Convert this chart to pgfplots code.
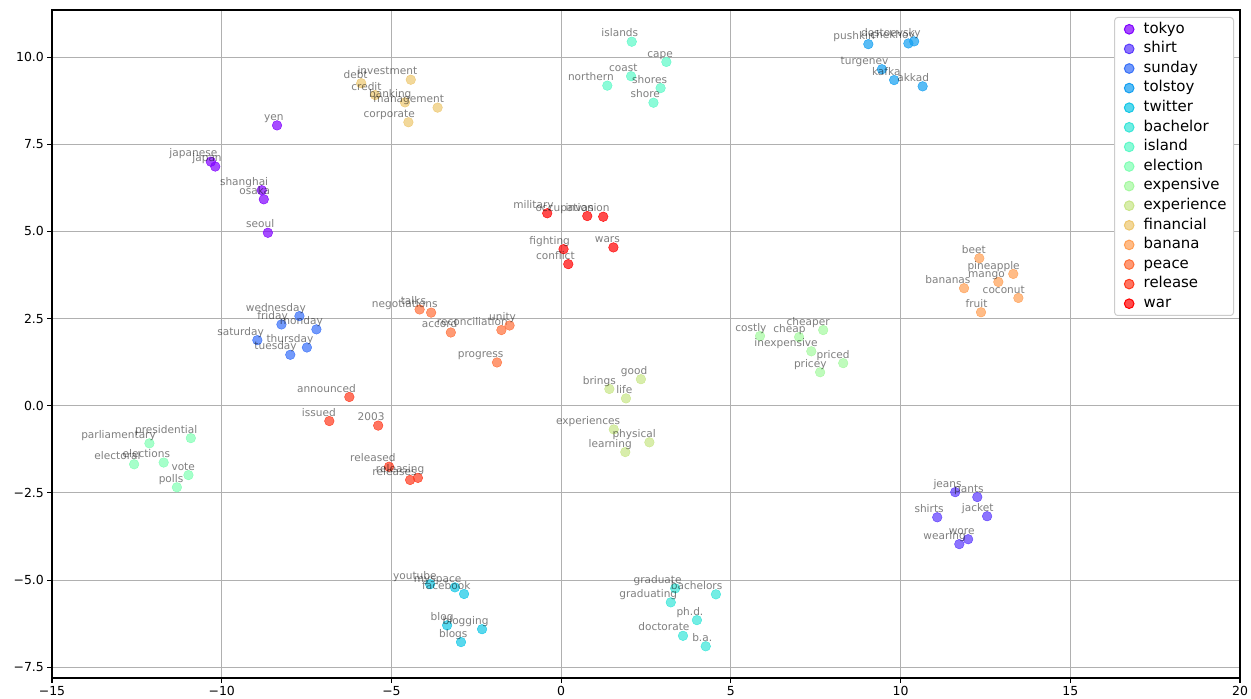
\documentclass[border=0pt]{standalone}
\usepackage{pgfplots}
\pgfplotsset{compat=1.18}
\usepackage{fontspec}
\setmainfont{DejaVu Sans}
\definecolor{c0}{RGB}{128,0,255}
\definecolor{c1}{RGB}{91,57,253}
\definecolor{c2}{RGB}{55,111,249}
\definecolor{c3}{RGB}{18,159,241}
\definecolor{c4}{RGB}{18,199,230}
\definecolor{c5}{RGB}{55,230,216}
\definecolor{c6}{RGB}{91,249,199}
\definecolor{c7}{RGB}{128,255,180}
\definecolor{c8}{RGB}{164,249,159}
\definecolor{c9}{RGB}{200,230,136}
\definecolor{c10}{RGB}{237,199,111}
\definecolor{c11}{RGB}{255,159,84}
\definecolor{c12}{RGB}{255,111,57}
\definecolor{c13}{RGB}{255,57,29}
\definecolor{c14}{RGB}{255,0,0}
\newcommand{\labfont}{\fontsize{10.6}{12}\selectfont}
\newcommand{\tickfont}{\fontsize{12.5}{15}\selectfont}
\newcommand{\legfont}{\fontsize{15}{17}\selectfont}
\pgfplotsset{
  wl/.style={only marks, mark=*, mark size=4.8bp, color=#1,
    mark options={draw=none, fill=#1, fill opacity=0.7},
    nodes near coords, point meta=explicit symbolic,
    nodes near coords style={anchor=south east, font=\labfont, text=black, text opacity=0.5,
      fill opacity=0, inner sep=0pt, text depth=2.5bp, xshift=6.6bp, yshift=2.2bp}},
}
\begin{document}
\begin{tikzpicture}
\begin{axis}[
  scale only axis, width=1188bp, height=668bp,
  xmin=-15, xmax=20, ymin=-7.81, ymax=11.35,
  xtick={-15,-10,-5,0,5,10,15,20},
  xticklabels={−15,−10,−5,0,5,10,15,20},
  ytick={-7.5,-5,-2.5,0,2.5,5,7.5,10},
  yticklabels={−7.5,−5.0,−2.5,0.0,2.5,5.0,7.5,10.0},
  tick label style={font=\tickfont},
  tick pos=left, tick align=outside, major tick length=4.6bp,
  every tick/.style={black, line width=1.05bp},
  grid=major, major grid style={color=black!31, line width=1.05bp},
  axis line style={line width=1.05bp},
  legend cell align=left,
  legend image code/.code={\path (-7bp,0bp) (7bp,0bp); \fill[#1, fill opacity=0.7] (0bp,0bp) circle (4.8bp);},
  legend style={at={(rel axis cs:1,1)}, anchor=north east, xshift=-6bp, yshift=-7bp,
    draw=black!20, fill=white, rounded corners=3bp, line width=1bp,
    font=\legfont, inner xsep=7bp, inner ysep=4.55bp, row sep=5.1bp, column sep=7bp,
    nodes={inner sep=0pt, text height=11bp, text depth=3.5bp}},
]
\addplot[wl=c0] table[meta=label] {
x y label
-8.37 8.04 yen
-10.32 7.00 japanese
-10.19 6.86 japan
-8.82 6.18 shanghai
-8.76 5.92 osaka
-8.64 4.96 seoul
};
\addlegendentry{tokyo}
\addplot[wl=c1] table[meta=label] {
x y label
11.61 -2.48 jeans
12.26 -2.62 pants
11.08 -3.20 shirts
12.55 -3.17 jacket
11.99 -3.83 wore
11.73 -3.97 wearing
};
\addlegendentry{shirt}
\addplot[wl=c2] table[meta=label] {
x y label
-7.71 2.57 wednesday
-8.24 2.33 friday
-7.21 2.19 monday
-8.95 1.88 saturday
-7.49 1.67 thursday
-7.98 1.46 tuesday
};
\addlegendentry{sunday}
\addplot[wl=c3] table[meta=label] {
x y label
9.05 10.37 pushkin
10.23 10.39 chekhov
10.40 10.45 dostoevsky
9.45 9.65 turgenev
9.81 9.34 kafka
10.65 9.16 akkad
};
\addlegendentry{tolstoy}
\addplot[wl=c4] table[meta=label] {
x y label
-3.86 -5.12 youtube
-3.13 -5.21 myspace
-2.86 -5.40 facebook
-3.36 -6.30 blog
-2.33 -6.41 blogging
-2.95 -6.78 blogs
};
\addlegendentry{twitter}
\addplot[wl=c5] table[meta=label] {
x y label
3.36 -5.24 graduate
4.56 -5.41 bachelors
3.23 -5.64 graduating
4.00 -6.15 ph.d.
3.59 -6.60 doctorate
4.26 -6.90 b.a.
};
\addlegendentry{bachelor}
\addplot[wl=c6] table[meta=label] {
x y label
2.08 10.44 islands
3.10 9.86 cape
2.06 9.45 coast
1.36 9.18 northern
2.93 9.11 shores
2.72 8.69 shore
};
\addlegendentry{island}
\addplot[wl=c7] table[meta=label] {
x y label
-12.13 -1.08 parliamentary
-10.91 -0.93 presidential
-12.58 -1.68 electoral
-11.71 -1.63 elections
-10.98 -1.99 vote
-11.32 -2.34 polls
};
\addlegendentry{election}
\addplot[wl=c8] table[meta=label] {
x y label
5.86 2.00 costly
7.01 1.97 cheap
7.72 2.17 cheaper
7.37 1.56 inexpensive
8.31 1.22 priced
7.63 0.96 pricey
};
\addlegendentry{expensive}
\addplot[wl=c9] table[meta=label] {
x y label
2.35 0.76 good
1.42 0.48 brings
1.91 0.21 life
1.55 -0.68 experiences
2.60 -1.05 physical
1.89 -1.33 learning
};
\addlegendentry{experience}
\addplot[wl=c10] table[meta=label] {
x y label
-5.89 9.25 debt
-4.43 9.35 investment
-5.48 8.91 credit
-4.60 8.70 banking
-3.64 8.55 management
-4.50 8.13 corporate
};
\addlegendentry{financial}
\addplot[wl=c11] table[meta=label] {
x y label
12.32 4.23 beet
13.32 3.78 pineapple
12.88 3.55 mango
11.87 3.37 bananas
13.47 3.09 coconut
12.37 2.68 fruit
};
\addlegendentry{banana}
\addplot[wl=c12] table[meta=label] {
x y label
-4.17 2.76 talks
-3.83 2.67 negotiations
-3.25 2.10 accord
-1.76 2.17 reconciliation
-1.52 2.30 unity
-1.89 1.24 progress
};
\addlegendentry{peace}
\addplot[wl=c13] table[meta=label] {
x y label
-6.24 0.25 announced
-6.83 -0.44 issued
-5.39 -0.57 2003
-5.07 -1.75 released
-4.22 -2.07 releasing
-4.45 -2.13 releases
};
\addlegendentry{release}
\addplot[wl=c14] table[meta=label] {
x y label
-0.41 5.52 military
0.77 5.44 occupation
1.24 5.42 invasion
0.07 4.49 fighting
0.21 4.06 conflict
1.54 4.54 wars
};
\addlegendentry{war}
\end{axis}
\pgfresetboundingbox
\path ([shift={(-52bp,-20bp)}]current axis.south west) rectangle ([shift={(11bp,10bp)}]current axis.north east);
\end{tikzpicture}
\end{document}
